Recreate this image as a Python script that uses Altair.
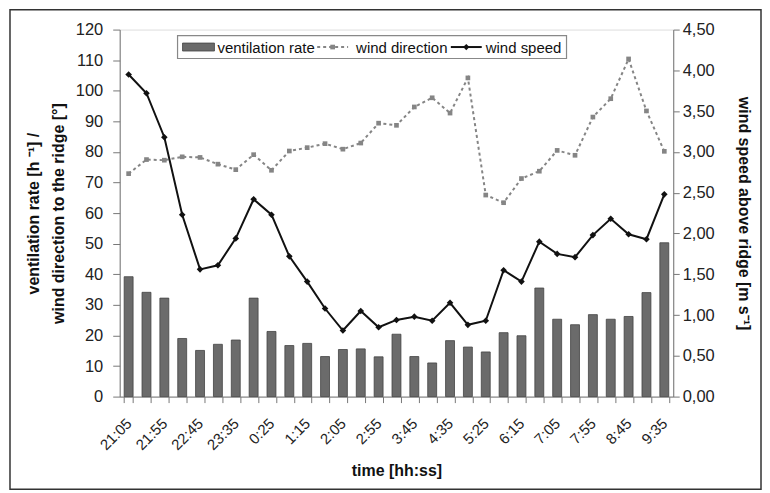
import altair as alt
import pandas as pd

F = "Liberation Sans"

times = ["21:05", "21:30", "21:55", "22:20", "22:45", "23:10", "23:35", "0:00",
         "0:25", "0:50", "1:15", "1:40", "2:05", "2:30", "2:55", "3:20", "3:45",
         "4:10", "4:35", "5:00", "5:25", "5:50", "6:15", "6:40", "7:05", "7:30",
         "7:55", "8:20", "8:45", "9:10", "9:35"]
ventilation = [39.2, 34.1, 32.2, 19.0, 15.1, 17.1, 18.5, 32.2, 21.3, 16.7, 17.4,
               13.1, 15.4, 15.6, 13.0, 20.4, 13.1, 11.0, 18.3, 16.2, 14.6, 20.9,
               19.9, 35.5, 25.3, 23.5, 26.8, 25.3, 26.2, 34.0, 50.3]
direction = [72.9, 77.5, 77.3, 78.4, 78.2, 76.0, 74.2, 79.1, 74.0, 80.3, 81.4,
             82.7, 80.9, 82.9, 89.4, 88.7, 94.7, 97.7, 92.7, 104.2, 65.9, 63.4,
             71.3, 73.7, 80.5, 78.9, 91.4, 97.4, 110.4, 93.4, 80.2]
speed = [3.95, 3.72, 3.18, 2.23, 1.56, 1.61, 1.94, 2.42, 2.23, 1.72, 1.41, 1.08,
         0.81, 1.05, 0.85, 0.94, 0.98, 0.93, 1.15, 0.88, 0.93, 1.55, 1.41, 1.90,
         1.75, 1.71, 1.98, 2.18, 1.99, 1.93, 2.48]
labelled_times = times[::2]
series_names = ["ventilation rate", "wind direction", "wind speed"]

left_ticks = list(range(0, 121, 10))
right_ticks = [0, 0.5, 1, 1.5, 2, 2.5, 3, 3.5, 4, 4.5]

BAR_C = "#6b6b6b"
DIR_C = "#858585"
SPD_C = "#111111"

df = pd.DataFrame({"time": times, "vent": ventilation, "dir": direction, "speed": speed})
one = pd.DataFrame({"a": [0]})

lab_list = "[" + ",".join("'%s'" % t for t in labelled_times) + "]"

x_enc = alt.X(
    "time:N", sort=times,
    scale=alt.Scale(paddingInner=0.5, paddingOuter=0.25),
    axis=alt.Axis(
        labelAngle=-45, labelAlign="right", labelBaseline="middle",
        labelExpr="indexof(" + lab_list + ", datum.value) >= 0 ? datum.value : ''",
        labelOverlap=False, tickBand="extent", tickSize=6, tickColor="#777",
        domainColor="#777", labelPadding=18, labelFont=F, labelFontSize=15,
        labelColor="#222", title="time [hh:ss]", titleFont=F, titleFontSize=16,
        titleFontWeight="bold", titleColor="#111", titlePadding=10,
    ),
)

left_axis = alt.Axis(
    values=left_ticks, orient="left", labelFont=F, labelFontSize=16.5,
    labelColor="#222", tickSize=7, tickColor="#777", domainColor="#777",
    labelPadding=10, grid=False, titleFont=F, titleFontSize=16,
    titleFontWeight="bold", titleColor="#111", titlePadding=9, titleLineHeight=25,
)
left_title = ["ventilation rate [h ⁻¹] /", "wind direction to the ridge [°]"]
left_scale = alt.Scale(domain=[0, 120], nice=False)

right_axis = alt.Axis(
    values=right_ticks, orient="right", labelFont=F, labelFontSize=16.5,
    labelColor="#222", tickSize=6, tickColor="#777", domainColor="#777",
    labelPadding=3, grid=False,
    labelExpr="replace(format(datum.value, '.2f'), '.', ',')",
    titleFont=F, titleFontSize=16, titleFontWeight="bold", titleColor="#111",
    titlePadding=21,
)

base = alt.Chart(df)

bars = base.mark_bar(color=BAR_C, stroke="#444444", strokeWidth=0.8).encode(
    x=x_enc, y=alt.Y("vent:Q", scale=left_scale, axis=left_axis, title=left_title)
)
dir_line = base.mark_line(color=DIR_C, strokeDash=[3, 3], strokeWidth=2).encode(
    x=x_enc, y=alt.Y("dir:Q", scale=left_scale, axis=left_axis, title=left_title)
)
dir_pts = base.mark_point(shape="square", filled=True, color=DIR_C, size=22, opacity=1).encode(
    x=x_enc, y=alt.Y("dir:Q", scale=left_scale, axis=left_axis, title=left_title)
)
left = alt.layer(bars, dir_line, dir_pts)

right_scale = alt.Scale(domain=[0, 4.5], nice=False)
spd_line = base.mark_line(color=SPD_C, strokeWidth=2).encode(
    x=x_enc, y=alt.Y("speed:Q", scale=right_scale, axis=right_axis,
                     title="wind speed above ridge [m s⁻¹]")
)
spd_pts = base.mark_point(shape="diamond", filled=True, color=SPD_C, size=44, opacity=1).encode(
    x=x_enc, y=alt.Y("speed:Q", scale=right_scale, axis=right_axis,
                     title="wind speed above ridge [m s⁻¹]")
)
right = alt.layer(spd_line, spd_pts)

# ---- legend box (drawn in plot-area pixel space) ----
lg = alt.Chart(one)
leg_box = lg.mark_rect(fill="white", stroke="#888", strokeWidth=1.2).encode(
    x=alt.value(58), x2=alt.value(448), y=alt.value(6), y2=alt.value(29))
leg_swatch = lg.mark_rect(fill=BAR_C, stroke="#444444", strokeWidth=0.8).encode(
    x=alt.value(63), x2=alt.value(95), y=alt.value(13.5), y2=alt.value(21.5))
leg_dir_rule = lg.mark_rule(color=DIR_C, strokeDash=[3, 3], strokeWidth=2).encode(
    x=alt.value(198), x2=alt.value(229), y=alt.value(17.5))
leg_dir_pt = lg.mark_point(shape="square", filled=True, color=DIR_C, size=22, opacity=1).encode(
    x=alt.value(213.5), y=alt.value(17.5))
leg_spd_rule = lg.mark_rule(color=SPD_C, strokeWidth=2).encode(
    x=alt.value(332), x2=alt.value(363), y=alt.value(17.5))
leg_spd_pt = lg.mark_point(shape="diamond", filled=True, color=SPD_C, size=40, opacity=1).encode(
    x=alt.value(347.5), y=alt.value(17.5))
leg_texts = [
    lg.mark_text(text=name, font=F, fontSize=15, color="#111", align="left", baseline="middle").encode(
        x=alt.value(xp), y=alt.value(18))
    for name, xp in zip(series_names, [98, 237, 367])
]

frame = alt.Chart(one).mark_rect(
    fill="white", fillOpacity=0, stroke="#333", strokeWidth=1.5
).encode(x=alt.value(-110), x2=alt.value(643), y=alt.value(-20), y2=alt.value(461))

chart = alt.layer(
    left, right, leg_box, leg_swatch, leg_dir_rule, leg_dir_pt, leg_spd_rule,
    leg_spd_pt, *leg_texts, frame
).resolve_scale(y="independent").properties(
    width=555, height=368,
    padding={"left": 1, "top": 0, "right": 0, "bottom": 0},
).configure_view(stroke="#888", strokeWidth=1).configure(background="white")

chart.save("out.html", embed_options={"renderer": "svg", "actions": False})
